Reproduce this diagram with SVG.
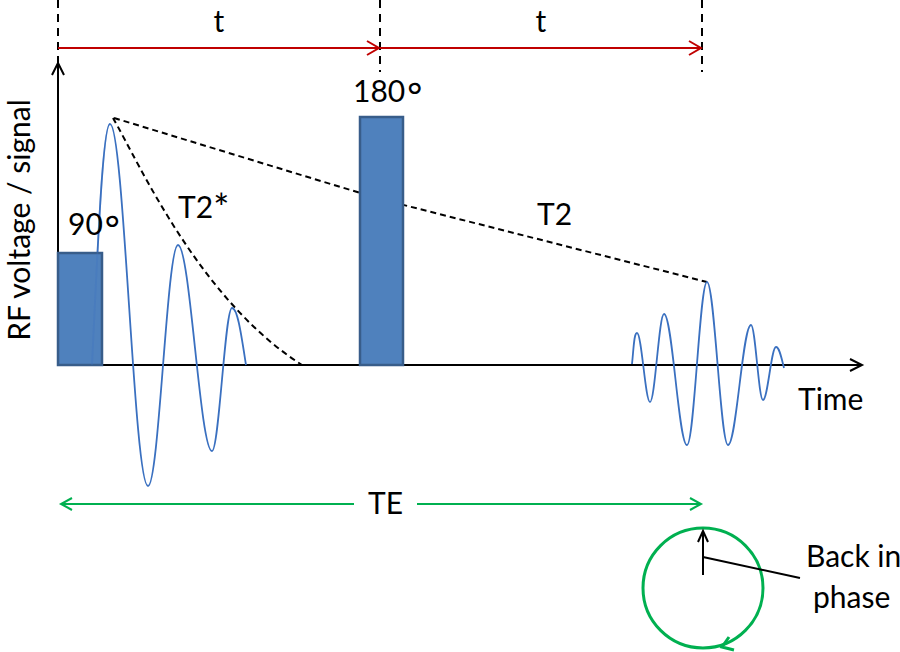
<svg xmlns="http://www.w3.org/2000/svg" width="900" height="652" viewBox="0 0 900 652">
<style>
  text { font-family: Lato, "Liberation Sans", sans-serif; font-size: 30px; fill: #000; }
  .deg { font-family: "DejaVu Sans", sans-serif; font-size: 38px; }
  .guide { stroke: #000; stroke-width: 2; stroke-dasharray: 8 6; fill: none; }
  .decay { stroke: #000; stroke-width: 2; stroke-dasharray: 6 4; fill: none; }
  .red { stroke: #C00000; stroke-width: 2; fill: none; }
  .green { stroke: #00B050; stroke-width: 2; fill: none; }
  .axis { stroke: #000; stroke-width: 2; fill: none; }
  .wave { stroke: #3A70C0; stroke-width: 1.8; fill: none; }
  .pulse { fill: #4F81BD; stroke: #385D8A; stroke-width: 2.5; }
</style>
<rect width="900" height="652" fill="#fff"/>

<g id="connectors">
  <line class="guide" x1="58" y1="0" x2="58" y2="63"/>
  <line class="guide" x1="380" y1="0" x2="380" y2="72"/>
  <line class="guide" x1="702" y1="0" x2="702" y2="72"/>
  <line class="red" x1="58" y1="48" x2="379" y2="48"/>
  <polyline class="red" points="367,41 379,48 367,55"/>
  <line class="red" x1="380" y1="48" x2="701" y2="48"/>
  <polyline class="red" points="689,41 701,48 689,55"/>
  <line class="axis" x1="58" y1="365" x2="58" y2="63"/>
  <polyline class="axis" points="52,75 58,63 64,75"/>
  <line class="axis" x1="58" y1="365" x2="862" y2="365"/>
  <polyline class="axis" points="850,359 862,365 850,371"/>
  <path class="decay" d="M113,118 C140,165 200,300 302,365"/>
  <polyline class="decay" points="114,118 380,199 707,282"/>
  <line class="green" x1="61" y1="504" x2="354" y2="504"/>
  <polyline class="green" points="72,498 61,504 72,510"/>
  <line class="green" x1="417" y1="504" x2="701" y2="504"/>
  <polyline class="green" points="690,498 701,504 690,510"/>
</g>

<g id="fid">
  <path class="wave" d="M92,365 C98,239 103,124 110,124 C124,124 134,486 148,486 C159,486 167,245 178,245 C190,245 200,451 212,451 C219,451 225,308 232,308 C237.6,308 241.3,335 246,365"/>
</g>

<g id="pulse90">
  <rect class="pulse" x="58" y="253" width="44" height="112"/>
  <path class="wave" d="M92,365 C98,239 103,124 110,124" stroke-opacity="0.3"/>
  <text x="68" y="235">90<tspan class="deg" dy="8">°</tspan></text>
</g>

<g id="pulse180">
  <rect class="pulse" x="360" y="117" width="43" height="248"/>
  <text x="353" y="102">180<tspan class="deg" dy="8">°</tspan></text>
</g>

<g id="echo">
  <path class="wave" d="M632,364 C633.7,348 634,333 637,333 C641.7,333 645.3,402 650,402 C655.1,402 658.9,314 664,314 C672.4,314 678.6,445 687,445 C694.3,445 699.7,282 707,282 C714.6,282 720.4,445 728,445 C736.4,445 742.6,325 751,325 C755.4,325 758.6,400 763,400 C767.7,400 771.3,347 776,347 C779.2,347 781.3,357 784,368"/>
</g>

<g id="labels">
  <text x="219" y="32" text-anchor="middle">t</text>
  <text x="541" y="32" text-anchor="middle">t</text>
  <text x="178" y="218">T2<tspan font-size="38" dy="4">*</tspan></text>
  <text x="537" y="225">T2</text>
  <text x="798" y="410">Time</text>
  <text x="368" y="514">TE</text>
  <text transform="translate(30,220) rotate(-90)" text-anchor="middle">RF voltage / signal</text>
</g>

<g id="phase">
  <circle cx="703" cy="588" r="60" fill="none" stroke="#00B050" stroke-width="3"/>
  <polyline points="729,637 722,647 734,650" fill="none" stroke="#00B050" stroke-width="3"/>
  <line class="axis" x1="703" y1="575" x2="703" y2="531"/>
  <polyline class="axis" points="698,542 703,531 708,542"/>
  <line class="axis" x1="703" y1="557" x2="800" y2="578"/>
  <text x="806" y="567">Back in</text>
  <text x="813" y="608">phase</text>
</g>
</svg>
